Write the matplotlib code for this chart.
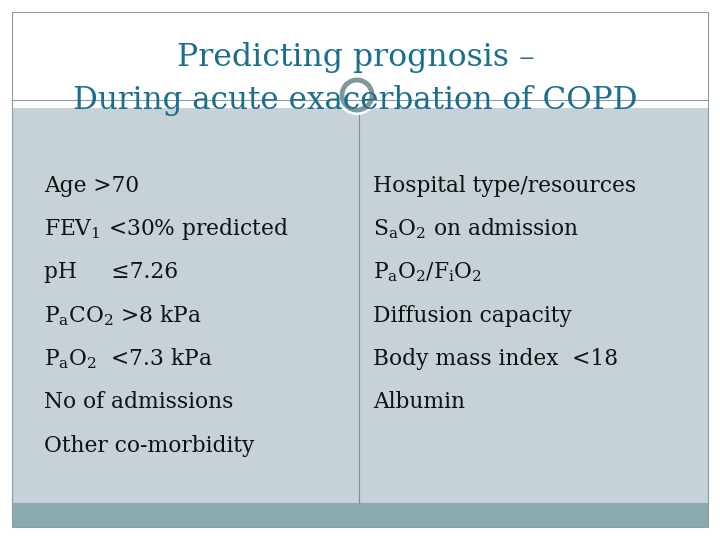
import matplotlib
matplotlib.use("Agg")
import matplotlib.pyplot as plt
from matplotlib.patches import Rectangle, Circle

plt.rcParams['font.family'] = ['DejaVu Serif']
plt.rcParams['mathtext.fontset'] = 'dejavuserif'

# slide content
title_lines = ["Predicting prognosis \u2013", "During acute exacerbation of COPD"]
left_items = [
    "Age >70",
    "FEV$_1$ <30% predicted",
    "pH     \u22647.26",
    "P$_\\mathrm{a}$CO$_2$ >8 kPa",
    "P$_\\mathrm{a}$O$_2$  <7.3 kPa",
    "No of admissions",
    "Other co-morbidity",
]
right_items = [
    "Hospital type/resources",
    "S$_\\mathrm{a}$O$_2$ on admission",
    "P$_\\mathrm{a}$O$_2$/F$_\\mathrm{i}$O$_2$",
    "Diffusion capacity",
    "Body mass index  <18",
    "Albumin",
]

title_color = '#1c6e8e'
panel_color = '#c6d1d8'
bar_color = '#8aabad'
edge_color = '#8c9ca6'

fig = plt.figure(figsize=(7.2, 5.4), dpi=100)
ax = fig.add_axes([0, 0, 1, 1])
ax.set_xlim(0, 720)
ax.set_ylim(540, 0)
ax.axis('off')

# slide frame, body panel and footer bar
ax.add_patch(Rectangle((12, 108), 696, 396, facecolor=panel_color, edgecolor='none'))
ax.add_patch(Rectangle((12, 503), 696, 24, facecolor=bar_color, edgecolor='none'))
ax.add_patch(Rectangle((12, 12), 696, 515, facecolor='none', edgecolor=edge_color, lw=0.8))
ax.plot([12, 708], [100, 100], color=edge_color, lw=0.8)
ax.plot([359, 359], [108, 503], color='#7d8f9c', lw=0.8)

# ring ornament
ax.add_patch(Circle((357, 95), 18, facecolor='none', edgecolor='white', lw=3, zorder=4))
ax.add_patch(Circle((357, 95), 15, facecolor='none', edgecolor='#7f9797', lw=3.5, zorder=5))

# title
ax.text(356, 66, title_lines[0], color=title_color, fontsize=22.7, ha='center',
        va='baseline', zorder=6)
ax.text(355, 109, title_lines[1], color=title_color, fontsize=22.3, ha='center',
        va='baseline', zorder=6)

# two columns of factors
row_y = [192, 235, 278, 322, 365, 408, 452]
for y, s in zip(row_y, left_items):
    ax.text(44, y, s, fontsize=15.7, color='#111111', ha='left', va='baseline')
for y, s in zip(row_y, right_items):
    ax.text(373, y, s, fontsize=15.7, color='#111111', ha='left', va='baseline')

fig.savefig('out.png', dpi=100)
